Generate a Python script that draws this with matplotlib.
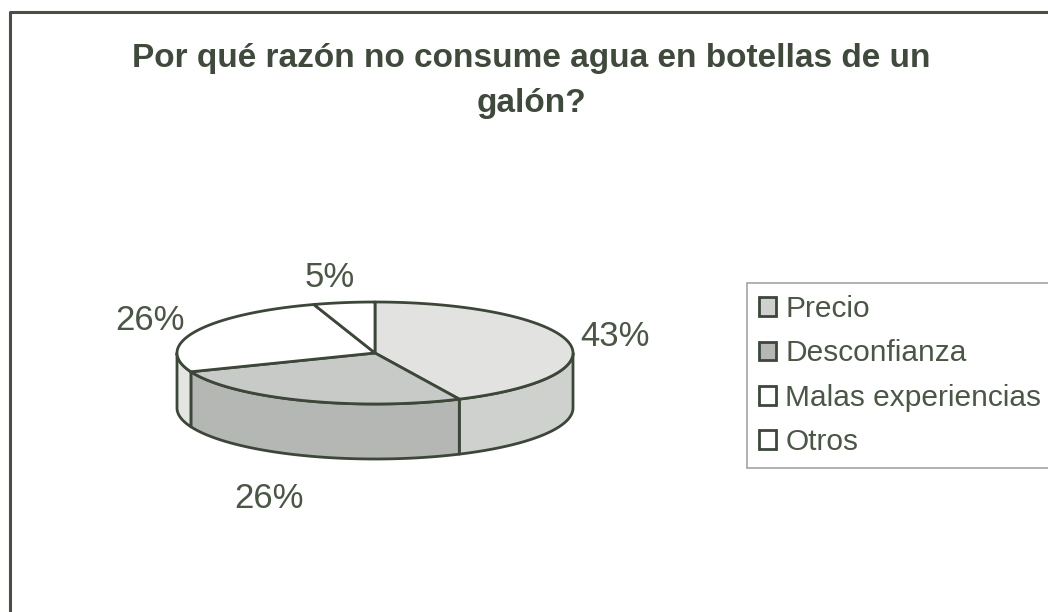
import numpy as np
import matplotlib
matplotlib.use("Agg")
import matplotlib.pyplot as plt
from matplotlib.patches import Polygon, Patch

# Survey answers
categories = ["Precio", "Desconfianza", "Malas experiencias", "Otros"]
shares = [43, 26, 26, 5]
title_lines = ["Por qué razón no consume agua en botellas de un", "galón?"]

top_colors = ["#e2e3e1", "#c8cac7", "#ffffff", "#ffffff"]
side_colors = ["#cfd1ce", "#b5b7b4", "#e3e5e2", "#eeeeee"]
legend_colors = ["#cfd1ce", "#b5b7b4", "#ffffff", "#ffffff"]
edge = "#3c4639"
text_col = "#4b5647"

W, H = 1048, 612
fig = plt.figure(figsize=(W / 100, H / 100), dpi=100)
fig.patch.set_facecolor("white")
ax = fig.add_axes([0, 0, 1, 1])
ax.set_xlim(0, W)
ax.set_ylim(H, 0)
ax.axis("off")

# outer chart frame (left and top edges visible)
ax.plot([10, 10, W], [H, 12, 12], color="#4a4f48", lw=2.2, solid_capstyle="butt")

# 3D pie geometry (pixel space)
cx, cy, a, b, depth = 375, 353, 198, 51, 55


def ell(t, dy=0.0):
    # t: degrees clockwise from 12 o'clock
    r = np.radians(t)
    return cx + a * np.sin(r), cy - b * np.cos(r) + dy


fracs = np.array(shares, dtype=float) / np.sum(shares)
bounds = np.concatenate([[0], np.cumsum(fracs) * 360])

# side walls (front half only: 90..270 deg)
for i in range(len(shares)):
    t0, t1 = bounds[i], bounds[i + 1]
    s0, s1 = max(t0, 90), min(t1, 270)
    if s1 <= s0:
        continue
    ts = np.linspace(s0, s1, 80)
    xt, yt = ell(ts)
    xb, yb = ell(ts[::-1], depth)
    poly = Polygon(np.column_stack([np.concatenate([xt, xb]), np.concatenate([yt, yb])]),
                   closed=True, facecolor=side_colors[i], edgecolor=edge, lw=2.0,
                   joinstyle="round", zorder=2)
    ax.add_patch(poly)

# top faces
for i in range(len(shares)):
    t0, t1 = bounds[i], bounds[i + 1]
    ts = np.linspace(t0, t1, 120)
    xt, yt = ell(ts)
    pts = np.column_stack([np.concatenate([[cx], xt]), np.concatenate([[cy], yt])])
    ax.add_patch(Polygon(pts, closed=True, facecolor=top_colors[i], edgecolor=edge,
                         lw=2.0, joinstyle="round", zorder=3))

# percentage labels: side labels hug the rim, top/bottom ones are centred
for i, v in enumerate(shares):
    m = np.radians((bounds[i] + bounds[i + 1]) / 2)
    s, c = np.sin(m), np.cos(m)
    if abs(s) > 0.5:
        lx = cx + 1.06 * a * s
        ha = "left" if s > 0 else "right"
    else:
        lx = cx + 1.45 * a * s
        ha = "center"
    ly = cy - 1.5 * b * c + 1.45 * depth * max(0.0, -c)
    ax.text(lx, ly, f"{v}%", ha=ha, va="center", fontsize=25,
            family="Liberation Sans", color=text_col, zorder=5)

# title (two lines)
ax.text(531, 67, title_lines[0], ha="center", va="baseline", fontsize=24,
        fontweight="bold", family="Liberation Sans", color="#3f4a3c")
ax.text(531, 112, title_lines[1], ha="center", va="baseline", fontsize=24,
        fontweight="bold", family="Liberation Sans", color="#3f4a3c")

# legend
handles = [Patch(facecolor=c, edgecolor=edge, lw=2.0) for c in legend_colors]
leg = ax.legend(handles, categories, loc="upper left",
                bbox_to_anchor=(747 / W, 1 - 283 / H), bbox_transform=fig.transFigure,
                borderaxespad=0, frameon=True, fancybox=False,
                prop={"family": "Liberation Sans", "size": 21.5},
                handlelength=0.58, handleheight=0.58, handletextpad=0.3,
                labelspacing=0.55, borderpad=0.4)
leg.get_frame().set_edgecolor("#8a8f88")
leg.get_frame().set_linewidth(1.2)
for t in leg.get_texts():
    t.set_color(text_col)

fig.savefig("out.png", dpi=100, facecolor="white")
